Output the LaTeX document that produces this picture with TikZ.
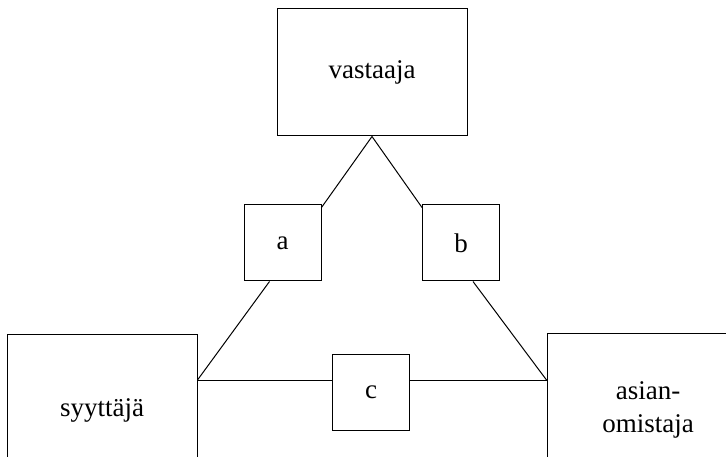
\documentclass[tikz,border=0pt]{standalone}
\usepackage{fontspec}
\setmainfont{Liberation Serif}
\begin{document}
\begin{tikzpicture}[x=1pt,y=-1pt,
  box/.style={draw,line width=1pt,inner sep=0pt,font=\fontsize{27}{33}\selectfont,align=center},
  small/.style={box,minimum width=77pt,minimum height=76pt},
  link/.style={line width=1pt}]
\clip (0,0) rectangle (726,457);
\fill[white] (0,0) rectangle (726,457);
% party boxes
\node[box,minimum width=190pt,minimum height=127pt] (v) at (372,72.5) {vastaaja};
\node[box,minimum width=190pt,minimum height=152pt] (s) at (102,410) {syyttäjä};
\node[box,minimum width=202pt,minimum height=154pt] (o) at (648,410) {asian-\\omistaja};
% relation boxes
\node[small] (a) at (282.5,243) {a};
\node[small] (b) at (461,243) {b};
\node[small] (c) at (371,392) {c};
% connectors
\draw[link] (v.south) -- ([yshift=-3pt]a.north east);
\draw[link] (v.south) -- ([yshift=-3pt]b.north west);
\draw[link] ([xshift=-13pt]a.south) -- ([yshift=30pt]s.east);
\draw[link] ([xshift=12pt]b.south) -- ([yshift=30pt]o.west);
\draw[link] ([yshift=30pt]s.east) -- ([yshift=12pt]c.west);
\draw[link] ([yshift=12pt]c.east) -- ([yshift=30pt]o.west);
\end{tikzpicture}
\end{document}
